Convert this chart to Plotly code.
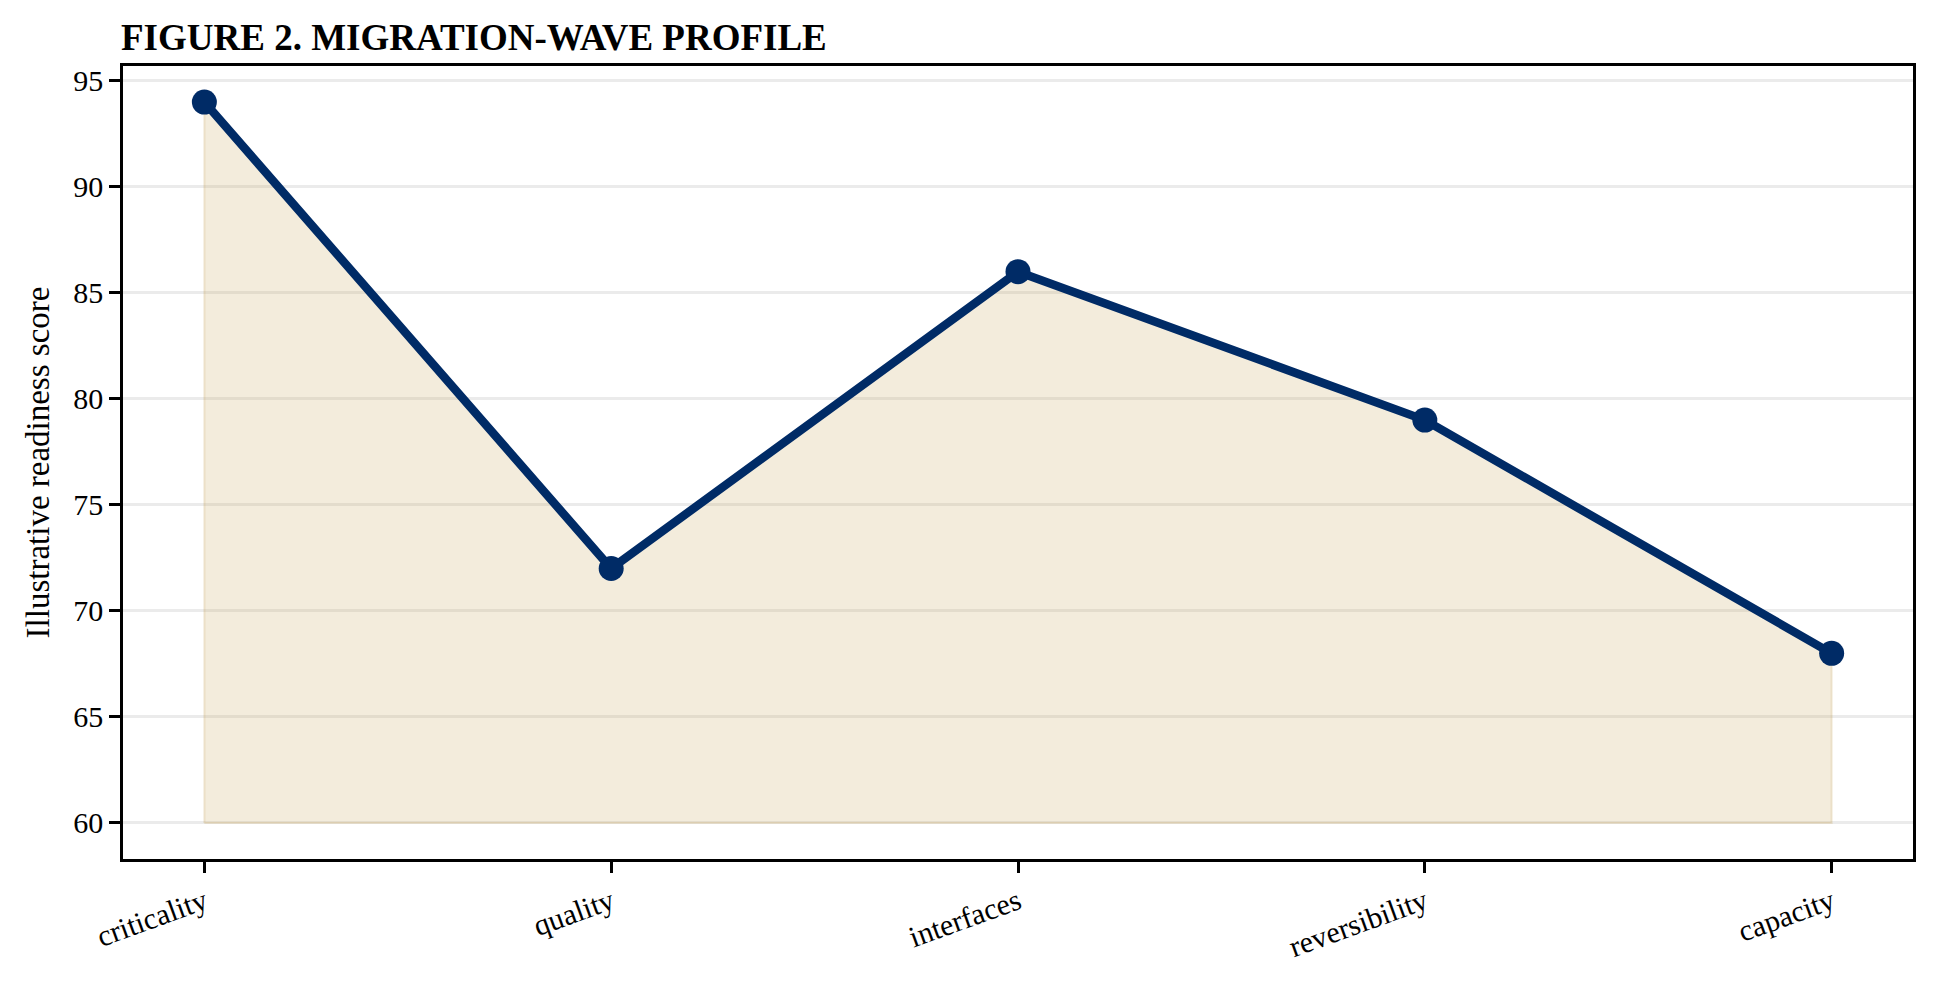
import plotly.graph_objects as go

# migration-wave profile, illustrative readiness scores
categories = ["criticality", "quality", "interfaces", "reversibility", "capacity"]
scores = [94, 72, 86, 79, 68]
baseline = 60
ytick_vals = [60, 65, 70, 75, 80, 85, 90, 95]

NAVY = "#002b66"
SAND = "rgba(195,160,80,0.2)"
SAND_EDGE = "rgba(195,160,80,0.22)"
FONT = "Liberation Serif"

xs = list(range(len(categories)))

fig = go.Figure()

# shaded area between the baseline and the profile (closed polygon like fill_between)
poly_x = [xs[0]] + xs + [xs[-1], xs[0]]
poly_y = [baseline] + scores + [baseline, baseline]
fig.add_trace(go.Scatter(
    x=poly_x, y=poly_y, mode="lines", fill="toself",
    fillcolor=SAND, line=dict(color=SAND_EDGE, width=2),
    hoverinfo="skip", showlegend=False,
))

fig.add_trace(go.Scatter(
    x=xs, y=scores, mode="lines+markers",
    line=dict(color=NAVY, width=8.5),
    marker=dict(color=NAVY, size=25),
    showlegend=False,
))

# page body adds a small offset, margins compensate
fig.update_layout(
    width=1940, height=983,
    paper_bgcolor="white", plot_bgcolor="white",
    margin=dict(l=115, r=35, t=58, b=132),
    font=dict(family=FONT, color="black", size=30),
    title=dict(
        text="<b>FIGURE 2. MIGRATION-WAVE PROFILE</b>",
        font=dict(family=FONT, size=37, color="black"),
        x=113 / 1940, xanchor="left", xref="container",
        y=1 - 29 / 983, yanchor="middle", yref="container",
    ),
)

fig.update_xaxes(
    range=[-0.2, 4.2],
    tickmode="array", tickvals=xs, ticktext=categories,
    tickangle=-20,
    ticks="outside", ticklen=11, tickwidth=2.5, tickcolor="black",
    showline=True, linecolor="black", linewidth=2.5, mirror=True,
    showgrid=False, zeroline=False,
    tickfont=dict(family=FONT, size=30),
)

fig.update_yaxes(
    range=[58.3, 95.7],
    tickmode="array", tickvals=ytick_vals,
    ticks="outside", ticklen=11, tickwidth=2.5, tickcolor="black",
    showline=True, linecolor="black", linewidth=2.5, mirror=True,
    showgrid=True, gridcolor="#ebebeb", gridwidth=2.5, zeroline=False,
    tickfont=dict(family=FONT, size=30),
    title=dict(text="Illustrative readiness score", font=dict(family=FONT, size=33), standoff=14),
)

fig.write_html("out.html")
